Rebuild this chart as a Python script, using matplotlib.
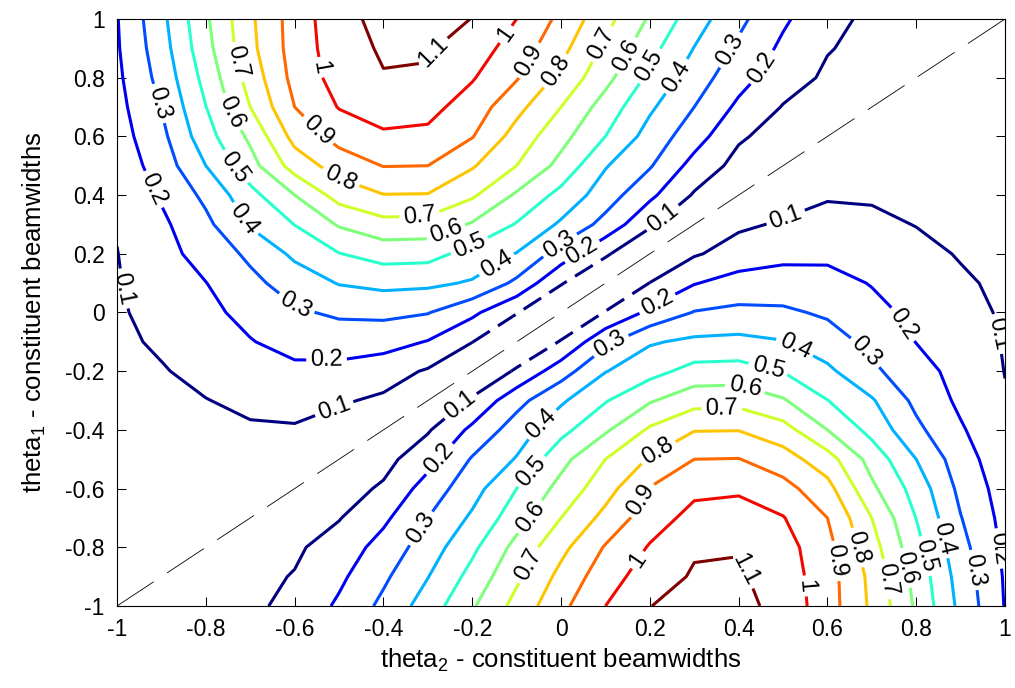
#!/usr/bin/env python3

import matplotlib
matplotlib.use("Agg")
import matplotlib.pyplot as plt
import numpy as np

plt.rcParams['font.family'] = ['Liberation Sans', 'DejaVu Sans']
plt.rcParams['mathtext.default'] = 'regular'
plt.rcParams['axes.unicode_minus'] = False
plt.rcParams['lines.scale_dashes'] = False

# grid of angles (beamwidths), same for both axes
theta = [-1.0, -0.9, -0.8, -0.7, -0.6, -0.5, -0.4, -0.3, -0.2, -0.1, 0.0,
         0.1, 0.2, 0.3, 0.4, 0.5, 0.6, 0.7, 0.8, 0.9, 1.0]

# values, one row per theta1 (0.0 .. 1.0), columns = theta2 (-1 .. 1)
# lower half follows from the point symmetry f(t1, t2) = f(-t1, -t2)
r00 = [0.090, 0.127, 0.176, 0.229, 0.286, 0.316, 0.322, 0.305, 0.222, 0.105, 0.000,
       0.105, 0.222, 0.305, 0.322, 0.316, 0.286, 0.229, 0.176, 0.127, 0.090]
r01 = [0.094, 0.146, 0.198, 0.274, 0.345, 0.405, 0.427, 0.420, 0.390, 0.278, 0.107,
       0.000, 0.102, 0.195, 0.240, 0.245, 0.235, 0.195, 0.160, 0.110, 0.086]
r02 = [0.098, 0.166, 0.238, 0.320, 0.420, 0.497, 0.540, 0.535, 0.465, 0.396, 0.255,
       0.114, 0.000, 0.090, 0.140, 0.173, 0.178, 0.160, 0.120, 0.095, 0.083]
r03 = [0.106, 0.180, 0.276, 0.410, 0.502, 0.610, 0.667, 0.662, 0.590, 0.493, 0.385,
       0.267, 0.115, 0.000, 0.085, 0.110, 0.125, 0.115, 0.098, 0.088, 0.080]
r04 = [0.120, 0.211, 0.323, 0.468, 0.600, 0.740, 0.797, 0.795, 0.715, 0.586, 0.470,
       0.349, 0.222, 0.090, 0.000, 0.060, 0.093, 0.092, 0.088, 0.083, 0.078]
r05 = [0.137, 0.245, 0.400, 0.562, 0.743, 0.845, 0.903, 0.900, 0.810, 0.700, 0.569,
       0.407, 0.309, 0.164, 0.068, 0.000, 0.050, 0.065, 0.075, 0.077, 0.075]
r06 = [0.155, 0.274, 0.460, 0.620, 0.834, 0.935, 0.987, 0.978, 0.905, 0.760, 0.633,
       0.500, 0.361, 0.244, 0.113, 0.060, 0.000, 0.035, 0.055, 0.065, 0.070]
r07 = [0.168, 0.304, 0.498, 0.700, 0.900, 1.005, 1.039, 1.031, 0.954, 0.830, 0.700,
       0.557, 0.416, 0.300, 0.180, 0.095, 0.055, 0.000, 0.030, 0.050, 0.060]
r08 = [0.180, 0.333, 0.533, 0.741, 0.932, 1.040, 1.094, 1.088, 1.008, 0.908, 0.773,
       0.631, 0.478, 0.349, 0.237, 0.143, 0.085, 0.050, 0.000, 0.025, 0.045]
r09 = [0.190, 0.356, 0.566, 0.773, 0.944, 1.053, 1.113, 1.111, 1.050, 0.956, 0.829,
       0.681, 0.533, 0.397, 0.282, 0.180, 0.105, 0.075, 0.045, 0.000, 0.025]
r10 = [0.195, 0.373, 0.584, 0.782, 0.946, 1.064, 1.133, 1.139, 1.098, 1.000, 0.875,
       0.733, 0.588, 0.447, 0.324, 0.216, 0.128, 0.080, 0.060, 0.035, 0.000]

levels = [0.1, 0.2, 0.3, 0.4, 0.5, 0.6, 0.7, 0.8, 0.9, 1.0, 1.1]
ticks = [-1, -0.8, -0.6, -0.4, -0.2, 0, 0.2, 0.4, 0.6, 0.8, 1]
tick_labels = ['-1', '-0.8', '-0.6', '-0.4', '-0.2', '0', '0.2', '0.4', '0.6', '0.8', '1']
diag = [-1, 1]

# where the contour labels sit (theta2, theta1)
label_pos = [
    (-0.726, 0.854), (-0.906, 0.712), (-0.741, 0.684), (-0.733, 0.497), (-0.929, 0.412),
    (-0.715, 0.315), (-0.981, 0.083), (-0.598, 0.026), (-0.557, 0.831), (-0.55, 0.616),
    (-0.498, 0.452), (-0.276, 0.876), (-0.122, 0.945), (-0.066, 0.854), (-0.02, 0.83),
    (-0.318, 0.327), (-0.254, 0.253), (-0.201, 0.207), (-0.149, 0.173),
    (0.376, 0.899), (0.091, 0.916), (0.147, 0.876), (0.203, 0.837), (0.256, 0.808),
    (0.451, 0.837), (0.226, 0.327), (-0.006, 0.237), (0.047, 0.209),
    (0.218, 0.027), (0.511, 0.305), (0.78, -0.03), (0.962, -0.081),
    (0.118, -0.126), (0.527, -0.115), (0.692, -0.126), (0.467, -0.188), (0.414, -0.256),
    (0.362, -0.319), (0.219, -0.477), (0.185, -0.642), (0.17, -0.84), (0.433, -0.863),
    (0.557, -0.931), (0.621, -0.846), (0.67, -0.80), (0.733, -0.908), (0.767, -0.874),
    (0.809, -0.834), (0.854, -0.772), (0.921, -0.88), (0.974, -0.806),
    (-0.22, -0.33), (-0.528, -0.16), (-0.513, -0.319), (-0.265, -0.511), (-0.302, -0.749),
    (-0.032, -0.398), (-0.055, -0.557), (-0.062, -0.704), (-0.07, -0.863),
]

upper = np.array([r00, r01, r02, r03, r04, r05, r06, r07, r08, r09, r10])
lower = upper[1:][::-1, ::-1]
Z = np.vstack([lower, upper])

fig = plt.figure(figsize=(10.15, 6.88), dpi=100)
ax = fig.add_axes([0.1153, 0.1192, 0.8749, 0.8532])

ax.plot(diag, diag, color='k', linewidth=0.6, linestyle=(0, (31.7, 11.5)), zorder=1)

cs = ax.contour(theta, theta, Z, levels=levels, cmap='jet', vmin=0.1, vmax=1.1,
                linewidths=2.2, zorder=2)
ax.clabel(cs, fmt='%g', fontsize=17, colors='k', manual=label_pos, inline=True,
          inline_spacing=4)

# central part of the 0.1 contour is drawn broken (dashed) in the original
navy = plt.get_cmap('jet')(0.0)
path = cs.get_paths()[0]
verts = path.vertices
codes = path.codes
starts = [0] + [i for i in range(1, len(verts)) if codes is not None and codes[i] == 1] + [len(verts)]
for a, b in zip(starts[:-1], starts[1:]):
    seg = verts[a:b]
    s = (seg[:, 0] + seg[:, 1]) / 2
    d = np.abs(seg[:, 0] - seg[:, 1])
    mask = (np.abs(s - 0.01) < 0.19) & (d < 0.25)
    if mask.sum() < 2:
        continue
    part = seg[mask]
    ax.plot(part[:, 0], part[:, 1], color='white', linewidth=3.4, zorder=3,
            solid_capstyle='butt')
    ax.plot(part[:, 0], part[:, 1], color=navy, linewidth=2.2, zorder=4,
            linestyle=(0, (15, 7)))

ax.set_xlim(-1, 1)
ax.set_ylim(-1, 1)
ax.set_xticks(ticks)
ax.set_xticklabels(tick_labels)
ax.set_yticks(ticks)
ax.set_yticklabels(tick_labels)
ax.tick_params(direction='in', top=True, right=True, length=6.5, width=0.75,
               labelsize=16.5, pad=9)
for sp in ax.spines.values():
    sp.set_linewidth(0.8)

ax.set_xlabel(r'theta$_2$ - constituent beamwidths', fontsize=18.5, labelpad=4)
ax.set_ylabel(r'theta$_1$ - constituent beamwidths', fontsize=18.5, labelpad=12)

fig.savefig('out.png', dpi=100)
